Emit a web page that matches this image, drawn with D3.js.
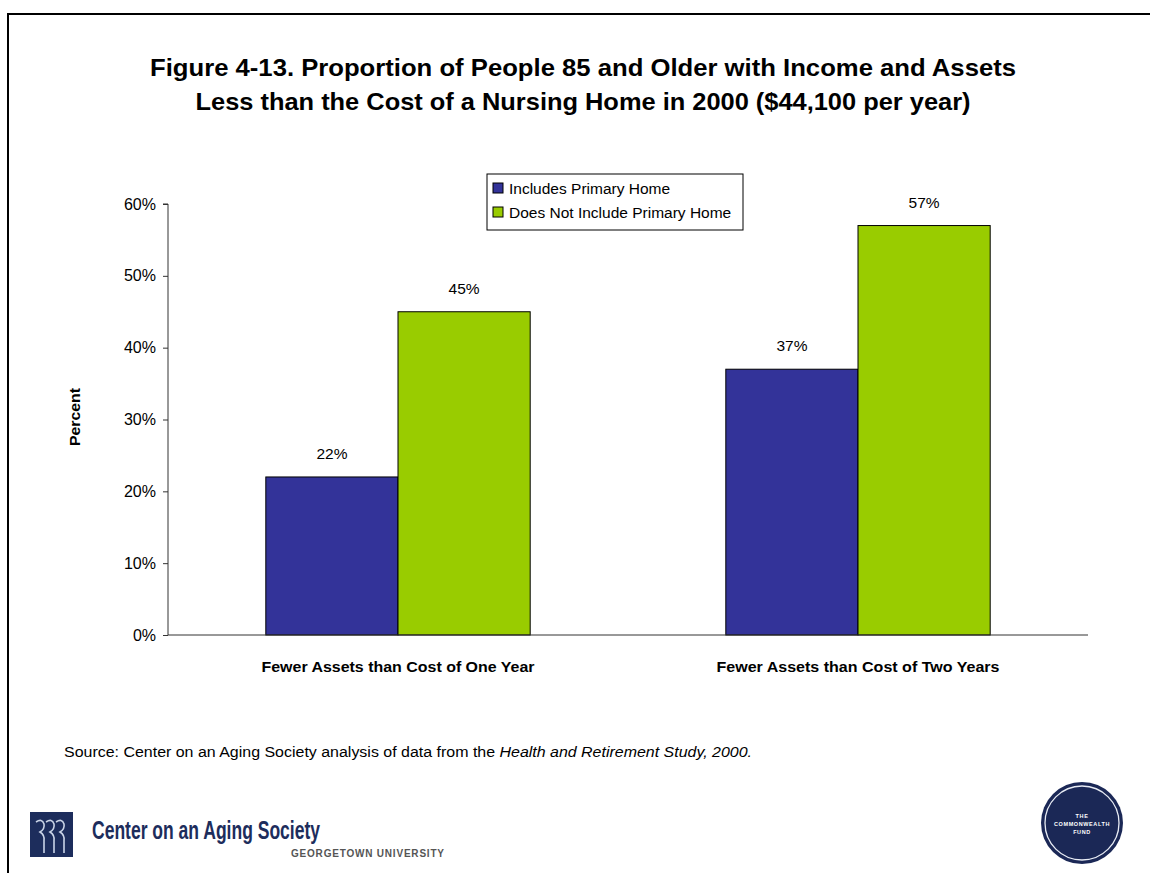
<!DOCTYPE html>
<html>
<head>
<meta charset="utf-8">
<script src="https://cdn.jsdelivr.net/npm/d3@7"></script>
<style>
  html, body { margin: 0; padding: 0; background: #fff; }
  svg { display: block; font-family: "Liberation Sans", Arial, sans-serif; }
</style>
</head>
<body>
<svg id="chart" width="1150" height="873"></svg>
<script>
// Chart data
const categories = ["Fewer Assets than Cost of One Year", "Fewer Assets than Cost of Two Years"];
const seriesNames = ["Includes Primary Home", "Does Not Include Primary Home"];
const includesHome = [22, 37];
const excludesHome = [45, 57];
const yTicks = [0, 10, 20, 30, 40, 50, 60];
const titleLines = [
  "Figure 4-13. Proportion of People 85 and Older with Income and Assets",
  "Less than the Cost of a Nursing Home in 2000 ($44,100 per year)"
];
const colors = ["#333399", "#99CC00"];

const svg = d3.select("#chart");

// Slide frame
svg.append("path")
  .attr("d", "M8,873 V14 H1150")
  .attr("fill", "none").attr("stroke", "#000").attr("stroke-width", 2);

// Title
const titleWidths = [866, 775];
svg.append("g").selectAll("text").data(titleLines).join("text")
  .attr("x", 583).attr("y", (d, i) => 76 + i * 34)
  .attr("text-anchor", "middle")
  .attr("font-size", 24).attr("font-weight", "bold")
  .attr("textLength", (d, i) => titleWidths[i]).attr("lengthAdjust", "spacingAndGlyphs")
  .text(d => d);

// Plot area
const plot = { left: 168, right: 1088, top: 204, bottom: 635 };

const x0 = d3.scaleBand().domain(categories).range([plot.left, plot.right]).paddingInner(0).paddingOuter(0);
const x1 = d3.scaleBand().domain([0, 1]).range([0, x0.bandwidth()]).paddingInner(0).paddingOuter(0.74);
const y = d3.scaleLinear().domain([0, 60]).range([plot.bottom, plot.top]);

const rows = categories.map((c, i) => ({ cat: c, vals: [includesHome[i], excludesHome[i]] }));

// Bars
const groups = svg.append("g").selectAll("g").data(rows).join("g")
  .attr("transform", d => `translate(${x0(d.cat)},0)`);

groups.selectAll("rect").data(d => d.vals.map((v, j) => ({ v, j }))).join("rect")
  .attr("x", d => x1(d.j))
  .attr("width", x1.bandwidth())
  .attr("y", d => y(d.v))
  .attr("height", d => y(0) - y(d.v))
  .attr("fill", d => colors[d.j])
  .attr("stroke", "#000").attr("stroke-width", 1);

groups.selectAll("text.val").data(d => d.vals.map((v, j) => ({ v, j }))).join("text")
  .attr("class", "val")
  .attr("x", d => x1(d.j) + x1.bandwidth() / 2)
  .attr("y", d => y(d.v) - 18)
  .attr("text-anchor", "middle")
  .attr("font-size", 15.5)
  .text(d => d.v + "%");

// Y axis
const yAxis = svg.append("g")
  .attr("transform", `translate(${plot.left},0)`)
  .call(d3.axisLeft(y).tickValues(yTicks).tickSize(5).tickPadding(7).tickFormat(d => d + "%"));
yAxis.select(".domain").attr("stroke", "#333").attr("d", `M-5,${plot.top}H0V${plot.bottom}`);
yAxis.selectAll(".tick line").attr("stroke", "#333");
yAxis.selectAll(".tick text").attr("font-size", 16).attr("fill", "#000")
  .attr("font-family", "'Liberation Sans', Arial, sans-serif");

// X axis baseline
svg.append("line")
  .attr("x1", plot.left).attr("x2", plot.right)
  .attr("y1", y(0)).attr("y2", y(0))
  .attr("stroke", "#333").attr("stroke-width", 1);

// Category labels
const catWidths = [273, 283];
svg.append("g").selectAll("text").data(categories).join("text")
  .attr("x", d => x0(d) + x0.bandwidth() / 2)
  .attr("y", 672)
  .attr("text-anchor", "middle")
  .attr("font-size", 15).attr("font-weight", "bold")
  .attr("textLength", (d, i) => catWidths[i]).attr("lengthAdjust", "spacingAndGlyphs")
  .text(d => d);

// Y axis title
svg.append("text")
  .attr("transform", "translate(80,417) rotate(-90)")
  .attr("text-anchor", "middle")
  .attr("font-size", 14.5).attr("font-weight", "bold")
  .attr("textLength", 58).attr("lengthAdjust", "spacingAndGlyphs")
  .text("Percent");

// Legend
const legend = svg.append("g").attr("transform", "translate(487,174)");
legend.append("rect").attr("width", 256).attr("height", 56)
  .attr("fill", "#fff").attr("stroke", "#000").attr("stroke-width", 1);
const items = legend.selectAll("g").data(seriesNames).join("g")
  .attr("transform", (d, i) => `translate(6,${9 + i * 24})`);
items.append("rect").attr("width", 10).attr("height", 10)
  .attr("fill", (d, i) => colors[i]).attr("stroke", "#000").attr("stroke-width", 1);
items.append("text").attr("x", 16).attr("y", 10.5)
  .attr("font-size", 15.5).text(d => d);

// Source note
const src = svg.append("text")
  .attr("x", 64).attr("y", 757)
  .attr("font-size", 14)
  .attr("font-family", "'Liberation Sans Narrow', 'Arial Narrow', 'Liberation Sans', Arial, sans-serif")
  .attr("textLength", 688).attr("lengthAdjust", "spacingAndGlyphs");
src.append("tspan").text("Source: Center on an Aging Society analysis of data from the ");
src.append("tspan").attr("font-style", "italic").text("Health and Retirement Study, 2000.");

// Center on an Aging Society logo
const logo = svg.append("g");
logo.append("rect").attr("x", 30).attr("y", 812).attr("width", 43).attr("height", 45).attr("fill", "#1d2d5c");
[0, 1, 2].forEach(i => {
  const ox = 36 + i * 10;
  logo.append("path")
    .attr("d", `M${ox},822 q6,-4 8,2 q1,5 -4,8 q5,3 4,9 v12`)
    .attr("fill", "none").attr("stroke", "#c9d3e6").attr("stroke-width", 1.6);
});
logo.append("text")
  .attr("x", 92).attr("y", 839)
  .attr("font-size", 26).attr("font-weight", "bold").attr("fill", "#1d2d5c")
  .attr("font-family", "'Liberation Sans Narrow', 'Arial Narrow', sans-serif")
  .attr("textLength", 228).attr("lengthAdjust", "spacingAndGlyphs")
  .text("Center on an Aging Society");
logo.append("text")
  .attr("x", 291).attr("y", 857)
  .attr("font-size", 10).attr("font-weight", "bold").attr("fill", "#555")
  .attr("font-family", "'Liberation Sans Narrow', 'Arial Narrow', sans-serif")
  .attr("textLength", 153).attr("lengthAdjust", "spacing")
  .text("GEORGETOWN UNIVERSITY");

// Commonwealth Fund seal
const seal = svg.append("g").attr("transform", "translate(1082,823)");
seal.append("circle").attr("r", 41).attr("fill", "#1b2856");
seal.append("circle").attr("r", 37).attr("fill", "none").attr("stroke", "#e8ecf4").attr("stroke-width", 1.3);
seal.selectAll("text").data(["THE", "COMMONWEALTH", "FUND"]).join("text")
  .attr("y", (d, i) => -5 + i * 8)
  .attr("text-anchor", "middle")
  .attr("font-size", 5.5).attr("font-weight", "bold").attr("fill", "#fff")
  .attr("letter-spacing", 0.6)
  .text(d => d);
</script>
</body>
</html>
